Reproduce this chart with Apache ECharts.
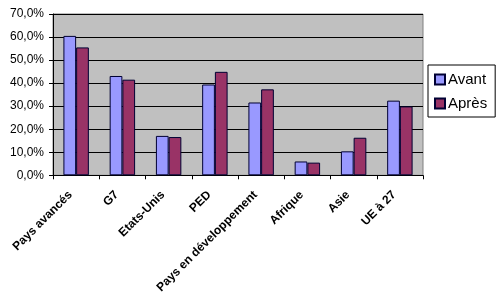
<!DOCTYPE html>
<html><head><meta charset="utf-8">
<script src="https://cdn.jsdelivr.net/npm/echarts@6/dist/echarts.min.js"></script>
<style>html,body{margin:0;padding:0;background:#fff}#c{width:498px;height:296px}</style>
</head><body><div id="c"></div>
<script>
var categories = ["Pays avancés","G7","Etats-Unis","PED","Pays en développement","Afrique","Asie","UE à 27"];
var avant = [60.5, 43.1, 17.1, 39.4, 31.6, 6.0, 10.4, 32.4];
var apres = [55.5, 41.5, 16.6, 44.9, 37.3, 5.5, 16.3, 29.9];
var seriesNames = ["Avant","Après"];

var chart = echarts.init(document.getElementById('c'), null, {renderer:'canvas'});
var font = "'Liberation Sans', Arial, sans-serif";
chart.setOption({
  animation:false,
  backgroundColor:'#fff',
  grid:{left:53,right:75,top:14,bottom:118,show:true,backgroundColor:'#C0C0C0',borderColor:'#808080',borderWidth:1},
  legend:{
    orient:'vertical', left:428, top:65, data:seriesNames,
    backgroundColor:'#fff', borderColor:'#000', borderWidth:1,
    padding:[7,8,6,6], itemGap:9, itemWidth:10, itemHeight:10,
    textStyle:{fontFamily:font,fontSize:15,color:'#000',padding:[0,0,0,-2]},
    icon:'rect'
  },
  xAxis:{
    type:'category', data:categories,
    axisLine:{lineStyle:{color:'#000',width:1}},
    axisTick:{show:true,length:4,lineStyle:{color:'#000'}},
    axisLabel:{rotate:45,interval:0,fontFamily:font,fontSize:12,fontWeight:'bold',color:'#000',margin:12,padding:[0,8,0,0]}
  },
  yAxis:{
    type:'value', min:0, max:70, interval:10,
    axisLine:{show:true,lineStyle:{color:'#000'}},
    axisTick:{show:true,length:4,lineStyle:{color:'#000'}},
    splitLine:{lineStyle:{color:'#000',width:1}},
    axisLabel:{fontFamily:font,fontSize:12,color:'#000',margin:9,
      formatter:function(v){return v.toFixed(1).replace('.',',')+'%';}}
  },
  series:[
    {name:seriesNames[0],type:'bar',data:avant,barGap:'0%',barCategoryGap:'45%',
     itemStyle:{color:'#9999FF',borderColor:'#000033',borderWidth:1}},
    {name:seriesNames[1],type:'bar',data:apres,barGap:'0%',barCategoryGap:'45%',
     itemStyle:{color:'#993366',borderColor:'#000033',borderWidth:1}}
  ]
});
</script></body></html>
